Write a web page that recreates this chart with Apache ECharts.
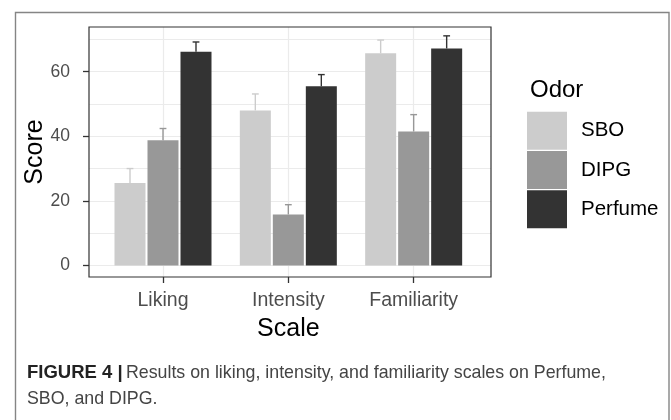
<!DOCTYPE html>
<html>
<head>
<meta charset="utf-8">
<script src="https://cdn.jsdelivr.net/npm/echarts@6/dist/echarts.min.js"></script>
<style>
html,body{margin:0;padding:0;background:#fff;}
#chart{width:671px;height:420px;}
</style>
</head>
<body>
<div id="chart"></div>
<script>
// ---- data ----
const categories = ['Liking', 'Intensity', 'Familiarity'];
const seriesNames = ['SBO', 'DIPG', 'Perfume'];
const sboMean = [25.5, 48.0, 65.7];
const sboErr = [4.5, 5.1, 4.1];
const dipgMean = [38.8, 15.8, 41.5];
const dipgErr = [3.6, 3.0, 5.2];
const perfumeMean = [66.2, 55.5, 67.2];
const perfumeErr = [3.0, 3.6, 3.9];
const yTickValues = [0, 20, 40, 60];
const yMinorValues = [10, 30, 50, 70];

// ---- style ----
const FONT = '"Liberation Sans", Arial, Helvetica, sans-serif';
const colors = ['#cccccc', '#989898', '#333333'];
const means = [sboMean, dipgMean, perfumeMean];
const errs = [sboErr, dipgErr, perfumeErr];
const BAR_W = 31, BAR_GAP = 2;

const chart = echarts.init(document.getElementById('chart'), null, {renderer: 'canvas'});

const series = [];
seriesNames.forEach((name, i) => {
  series.push({
    name: name, type: 'bar', xAxisIndex: 4, yAxisIndex: 4,
    data: means[i], barWidth: BAR_W, barGap: (BAR_GAP / BAR_W * 100) + '%',
    itemStyle: {color: colors[i]}, emphasis: {disabled: true}, z: 3,
    animation: false
  });
});
seriesNames.forEach((name, i) => {
  const off = (i - 1) * (BAR_W + BAR_GAP);
  series.push({
    name: name + ' error', type: 'custom', xAxisIndex: 4, yAxisIndex: 4,
    data: categories.map((c, k) => [k, means[i][k], errs[i][k]]),
    encode: {x: 0, y: 1}, z: 4, clip: false, animation: false, silent: true,
    renderItem: function (params, api) {
      const k = api.value(0), m = api.value(1), e = api.value(2);
      const p0 = api.coord([k, m]);
      const p1 = api.coord([k, m + e]);
      const x = p0[0] + off;
      const st = {stroke: colors[i], lineWidth: 1.4, fill: null};
      return {type: 'group', children: [
        {type: 'line', shape: {x1: x, y1: p0[1], x2: x, y2: p1[1]}, style: st},
        {type: 'line', shape: {x1: x - 3.4, y1: p1[1], x2: x + 3.4, y2: p1[1]}, style: st}
      ]};
    }
  });
});

const option = {
  backgroundColor: '#ffffff',
  animation: false,
  textStyle: {fontFamily: FONT},
  grid: [
    // 0: panel frame
    {left: 89, top: 27, width: 402, height: 250, show: true, backgroundColor: 'transparent',
     borderColor: '#333333', borderWidth: 1.2, z: 10, outerBoundsMode: 'none', containLabel: false},
    // 1: major horizontal grid (0..60)
    {left: 89, top: 71.7, width: 402, height: 193.7, outerBoundsMode: 'none', containLabel: false},
    // 2: minor horizontal grid (10..70)
    {left: 89, top: 39.4, width: 402, height: 193.7, outerBoundsMode: 'none', containLabel: false},
    // 3: category axis (ticks, labels, vertical grid)
    {left: 163, top: 27, width: 250.7, height: 250, outerBoundsMode: 'none', containLabel: false},
    // 4: bars
    {left: 100.33, top: 39.4, width: 376, height: 226, outerBoundsMode: 'none', containLabel: false}
  ],
  xAxis: [
    {gridIndex: 0, type: 'value', show: false},
    {gridIndex: 1, type: 'value', show: false},
    {gridIndex: 2, type: 'value', show: false},
    {gridIndex: 3, type: 'category', data: categories, boundaryGap: false,
     axisLine: {show: false},
     axisTick: {show: true, length: 6, lineStyle: {color: '#333333', width: 1.3}},
     axisLabel: {show: true, margin: 14, fontSize: 19.5, color: '#4d4d4d', fontFamily: FONT},
     splitLine: {show: true, lineStyle: {color: '#ebebeb', width: 1.2}},
     name: 'Scale', nameLocation: 'middle', nameGap: 40,
     nameTextStyle: {fontSize: 25, color: '#000000', fontFamily: FONT}},
    {gridIndex: 4, type: 'category', data: categories, show: false}
  ],
  yAxis: [
    {gridIndex: 0, type: 'value', min: 0, max: 1, show: true,
     axisLine: {show: false}, axisTick: {show: false}, axisLabel: {show: false}, splitLine: {show: false},
     name: 'Score', nameLocation: 'middle', nameGap: 41, nameRotate: 90,
     nameTextStyle: {fontSize: 25, color: '#000000', fontFamily: FONT}},
    {gridIndex: 1, type: 'value', min: yTickValues[0], max: yTickValues[yTickValues.length - 1], interval: 20,
     axisLine: {show: false},
     axisTick: {show: true, length: 6, lineStyle: {color: '#333333', width: 1.3}},
     axisLabel: {show: true, margin: 19, fontSize: 17.5, color: '#4d4d4d', fontFamily: FONT},
     splitLine: {show: true, lineStyle: {color: '#ebebeb', width: 1.2}}},
    {gridIndex: 2, type: 'value', min: yMinorValues[0], max: yMinorValues[yMinorValues.length - 1], interval: 20,
     axisLine: {show: false}, axisTick: {show: false}, axisLabel: {show: false},
     splitLine: {show: true, lineStyle: {color: '#ebebeb', width: 1.2}}},
    {gridIndex: 3, type: 'value', show: false},
    {gridIndex: 4, type: 'value', min: 0, max: 70, show: false}
  ],
  legend: {
    data: seriesNames, orient: 'vertical', left: 527, top: 111.7, padding: 0,
    itemWidth: 40, itemHeight: 38, itemGap: 1.3, icon: 'rect', selectedMode: false,
    textStyle: {fontSize: 20.5, color: '#000000', fontFamily: FONT, padding: [0, 0, 0, 9]}
  },
  graphic: [
    {type: 'rect', shape: {x: 15.5, y: 12.5, width: 653.5, height: 430},
     style: {fill: null, stroke: '#858585', lineWidth: 1.4}, silent: true, z: 100},
    {type: 'text', x: 530, y: 90, silent: true,
     style: {text: 'Odor', fontSize: 24, fill: '#000000', fontFamily: FONT, verticalAlign: 'middle', align: 'left'}},
    {type: 'text', x: 27, y: 386, silent: true,
     style: {
       text: '{b|FIGURE 4 |} {n|Results on liking, intensity, and familiarity scales on Perfume,}\n{n|SBO, and DIPG.}',
       verticalAlign: 'middle', align: 'left', lineHeight: 26,
       rich: {
         b: {fontSize: 18.5, fontWeight: 'bold', fill: '#222222', fontFamily: FONT, lineHeight: 26},
         n: {fontSize: 17.8, fill: '#444444', fontFamily: FONT, lineHeight: 26}
       }
     }}
  ],
  series: series
};
chart.setOption(option);
</script>
</body>
</html>
